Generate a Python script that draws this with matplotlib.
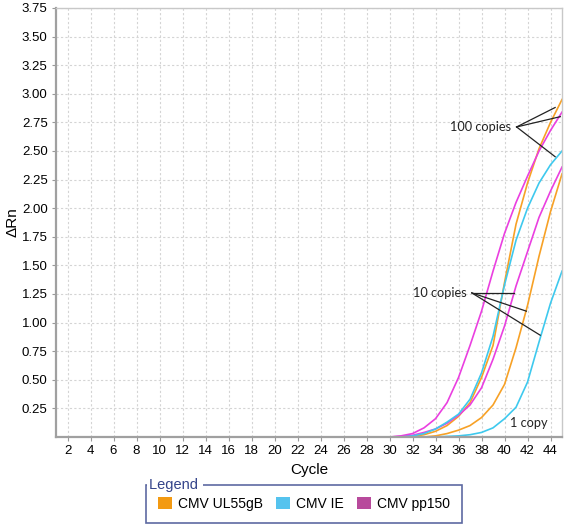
import matplotlib.pyplot as plt
from matplotlib.patches import Patch

# amplification curves (cycle -> delta Rn)
cycles = list(range(30, 46))
cycles_lead_mag = [4] + cycles
cycles_lead = [6] + cycles

mag_100 = [0.0, 0.01, 0.03, 0.08, 0.16, 0.30, 0.52, 0.80, 1.10, 1.45, 1.78, 2.05, 2.28, 2.50, 2.68, 2.84]
ora_100 = [0.0, 0.0, 0.005, 0.02, 0.05, 0.10, 0.18, 0.30, 0.52, 0.80, 1.35, 1.86, 2.22, 2.52, 2.75, 2.95]
cya_100 = [0.0, 0.0, 0.01, 0.03, 0.07, 0.13, 0.20, 0.33, 0.56, 0.88, 1.33, 1.72, 2.00, 2.22, 2.38, 2.50]
mag_10 = [0.0, 0.005, 0.015, 0.04, 0.07, 0.12, 0.19, 0.28, 0.43, 0.68, 0.97, 1.32, 1.62, 1.92, 2.15, 2.36]
ora_10 = [0.0, 0.0, 0.0, 0.0, 0.01, 0.03, 0.06, 0.10, 0.17, 0.28, 0.46, 0.78, 1.15, 1.58, 1.97, 2.30]
cya_1 = [0.0, 0.0, 0.0, 0.0, 0.0, 0.005, 0.01, 0.02, 0.04, 0.08, 0.16, 0.26, 0.48, 0.83, 1.17, 1.45]

x_ticks = list(range(2, 46, 2))
y_ticks = [0.25, 0.50, 0.75, 1.00, 1.25, 1.50, 1.75, 2.00, 2.25, 2.50, 2.75, 3.00, 3.25, 3.50, 3.75]

series_names = ["CMV UL55gB", "CMV IE", "CMV pp150"]

ORANGE = "#f7a126"
CYAN = "#3ec9ee"
MAGENTA = "#ea3fe0"
LEG_COLORS = ["#f39a12", "#55c3ee", "#b84a9c"]
NAVY = "#34448a"

plt.rcParams['font.family'] = ['Liberation Sans', 'DejaVu Sans']

fig = plt.figure(figsize=(5.64, 5.25), dpi=100)
ax = fig.add_axes([0.0993, 0.1676, 0.8972, 0.8172])

ax.plot(cycles_lead, [0.0] + ora_100, color=ORANGE, lw=1.2)
ax.plot(cycles_lead, [0.0] + ora_10, color=ORANGE, lw=1.2)
ax.plot(cycles_lead_mag, [0.0] + mag_100, color=MAGENTA, lw=1.2)
ax.plot(cycles_lead_mag, [0.0] + mag_10, color=MAGENTA, lw=1.2)
ax.plot(cycles_lead, [0.0] + cya_100, color=CYAN, lw=1.2)
ax.plot(cycles_lead, [0.0] + cya_1, color=CYAN, lw=1.2)

ax.set_xlim(1, 45)
ax.set_ylim(0, 3.75)
ax.set_xticks(x_ticks)
ax.set_yticks(y_ticks)
ax.set_yticklabels([f"{v:.2f}" for v in y_ticks])
ax.tick_params(labelsize=9.5, length=3, color="#999999", pad=3)
ax.grid(True, color="#d4d4d4", linestyle=(0, (2, 2)), linewidth=0.8)
ax.set_axisbelow(True)
for side in ["top", "right"]:
    ax.spines[side].set_color("#c8c8c8")
    ax.spines[side].set_linewidth(1.0)
for side in ["left", "bottom"]:
    ax.spines[side].set_color("#a0a0a0")
    ax.spines[side].set_linewidth(1.6)

ax.set_xlabel("Cycle", fontsize=11, labelpad=4)
ax.set_ylabel("\u0394Rn", fontsize=11, labelpad=2)

# annotations
ann = dict(family=['Lato', 'DejaVu Sans'], fontsize=9.2, color="#222222")
ax.text(40.6, 2.71, "100 copies", ha="right", va="center", **ann)
for tx, ty in [(44.4, 2.88), (44.85, 2.80), (44.4, 2.45)]:
    ax.plot([41.05, tx], [2.71, ty], color="#222222", lw=0.9)

ax.text(36.7, 1.26, "10 copies", ha="right", va="center", **ann)
for tx, ty in [(40.8, 1.26), (41.9, 1.10), (43.1, 0.89)]:
    ax.plot([37.15, tx], [1.26, ty], color="#222222", lw=0.9)

ax.text(40.5, 0.12, "1 copy", ha="left", va="center", **ann)

# legend box
handles = [Patch(facecolor=c, edgecolor="none") for c in LEG_COLORS]
leg = fig.legend(handles, series_names, loc="center", bbox_to_anchor=(0.539, 0.04),
                 ncol=3, frameon=True, fancybox=False, edgecolor=NAVY,
                 fontsize=10, handlelength=1.0, handleheight=1.0, handletextpad=0.45,
                 columnspacing=0.95, borderpad=0.85, borderaxespad=0)
leg.get_frame().set_linewidth(1.2)
fig.canvas.draw()
bb = leg.get_window_extent().transformed(fig.transFigure.inverted())
fig.text(bb.x0 + 0.005, bb.y1, "Legend ", ha="left", va="center", fontsize=10.5,
         color=NAVY, zorder=10,
         bbox=dict(facecolor="white", edgecolor="none", pad=1.0))

fig.savefig("out.png", dpi=100)
